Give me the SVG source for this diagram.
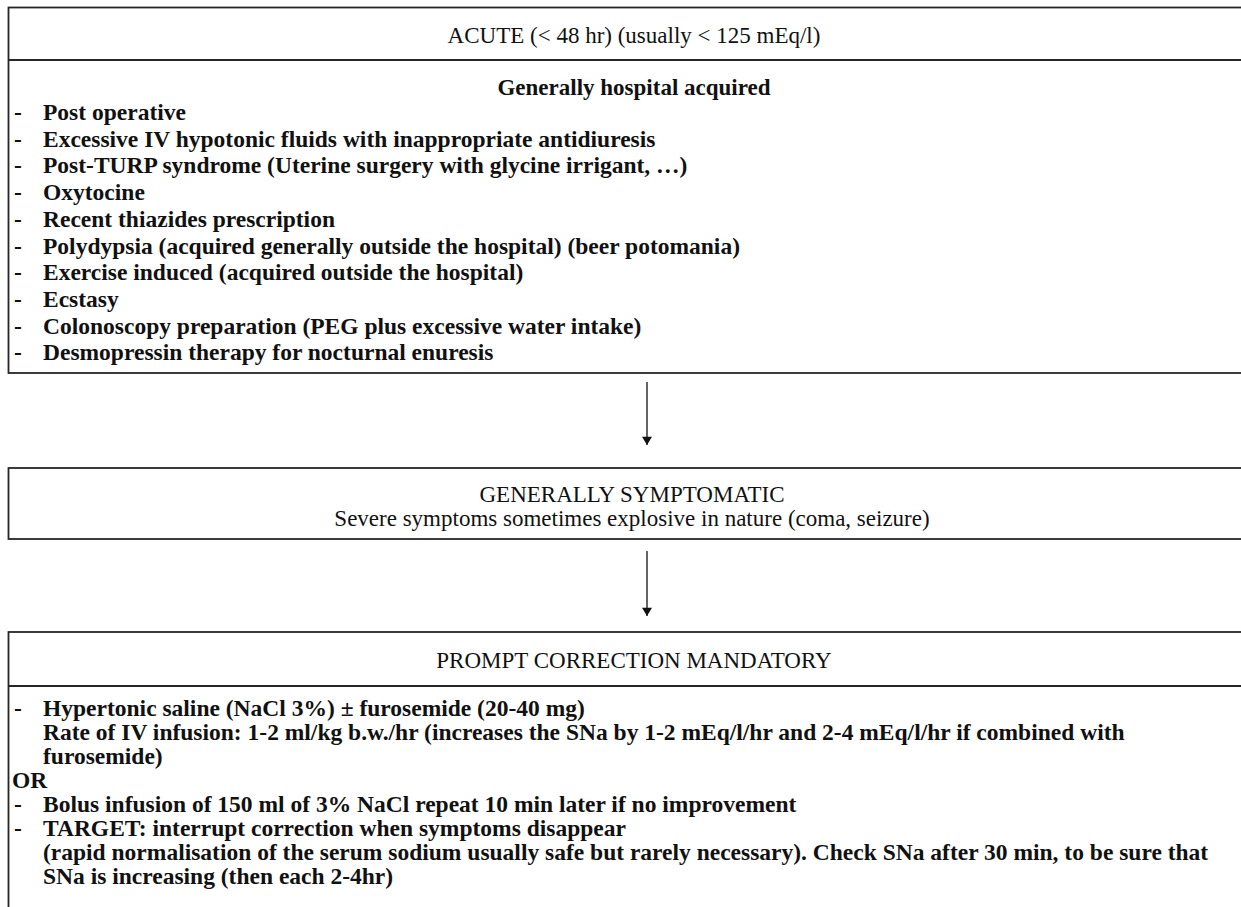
<svg xmlns="http://www.w3.org/2000/svg" width="1241" height="907" viewBox="0 0 1241 907">
<style>
.box{fill:none;stroke:#262626;stroke-width:1.8}
.sep{stroke:#262626;stroke-width:1.8}
.hd{font-family:"Liberation Serif",serif;font-size:23px;fill:#111;text-anchor:middle}
.sub{font-family:"Liberation Serif",serif;font-size:23px;font-weight:bold;fill:#111;text-anchor:middle}
.li{font-family:"Liberation Serif",serif;font-size:23.5px;font-weight:bold;fill:#111}
.conn{stroke:#111;stroke-width:1.3;fill:none}
</style>
<defs>
<marker id="ah" viewBox="0 0 10 12" refX="10" refY="6" markerWidth="12" markerHeight="10" markerUnits="userSpaceOnUse" orient="auto">
<path d="M0,0 L10,6 L0,12 z" fill="#111"/>
</marker>
</defs>
<g id="acute">
<rect class="box" x="8.5" y="7.5" width="1260" height="365.5"/>
<line class="sep" x1="8.5" y1="60" x2="1268" y2="60"/>
<text class="hd" x="634" y="43">ACUTE (&lt; 48 hr) (usually &lt; 125 mEq/l)</text>
<text class="sub" x="634" y="95">Generally hospital acquired</text>
<g class="li">
<text x="14" y="120">-</text><text x="43" y="120">Post operative</text>
<text x="14" y="146.7">-</text><text x="43" y="146.7">Excessive IV hypotonic fluids with  inappropriate antidiuresis</text>
<text x="14" y="173.4">-</text><text x="43" y="173.4">Post-TURP syndrome (Uterine surgery with glycine irrigant, …)</text>
<text x="14" y="200.1">-</text><text x="43" y="200.1">Oxytocine</text>
<text x="14" y="226.8">-</text><text x="43" y="226.8">Recent thiazides prescription</text>
<text x="14" y="253.5">-</text><text x="43" y="253.5">Polydypsia (acquired generally outside the hospital) (beer potomania)</text>
<text x="14" y="280.2">-</text><text x="43" y="280.2">Exercise induced (acquired outside the hospital)</text>
<text x="14" y="306.9">-</text><text x="43" y="306.9">Ecstasy</text>
<text x="14" y="333.6">-</text><text x="43" y="333.6">Colonoscopy preparation (PEG plus excessive water intake)</text>
<text x="14" y="360.3">-</text><text x="43" y="360.3">Desmopressin therapy for nocturnal enuresis</text>
</g>
</g>
<g id="symptomatic">
<rect class="box" x="8.5" y="468" width="1260" height="71"/>
<text class="hd" x="632" y="502">GENERALLY SYMPTOMATIC</text>
<text class="hd" x="632" y="526">Severe symptoms sometimes explosive in nature (coma, seizure)</text>
</g>
<g id="correction">
<rect class="box" x="8.5" y="632" width="1260" height="300"/>
<line class="sep" x1="8.5" y1="686" x2="1268" y2="686"/>
<text class="hd" x="634" y="668">PROMPT CORRECTION MANDATORY</text>
<g class="li">
<text x="14" y="716">-</text><text x="43" y="716">Hypertonic saline (NaCl 3%) ± furosemide (20-40 mg)</text>
<text x="43" y="740">Rate of IV infusion: 1-2 ml/kg b.w./hr (increases the SNa by 1-2 mEq/l/hr and 2-4 mEq/l/hr if combined with</text>
<text x="43" y="764">furosemide)</text>
<text x="12" y="788">OR</text>
<text x="14" y="812">-</text><text x="43" y="812">Bolus infusion of 150 ml of 3% NaCl repeat 10 min later if no improvement</text>
<text x="14" y="836">-</text><text x="43" y="836">TARGET: interrupt correction when symptoms disappear</text>
<text x="43" y="860">(rapid normalisation of the serum sodium usually safe but rarely necessary).  Check SNa after 30 min, to be sure that</text>
<text x="43" y="884">SNa is increasing (then each 2-4hr)</text>
</g>
</g>
<g id="connectors">
<line class="conn" x1="647" y1="382" x2="647" y2="445" marker-end="url(#ah)"/>
<line class="conn" x1="647" y1="551" x2="647" y2="616" marker-end="url(#ah)"/>
</g>
</svg>
